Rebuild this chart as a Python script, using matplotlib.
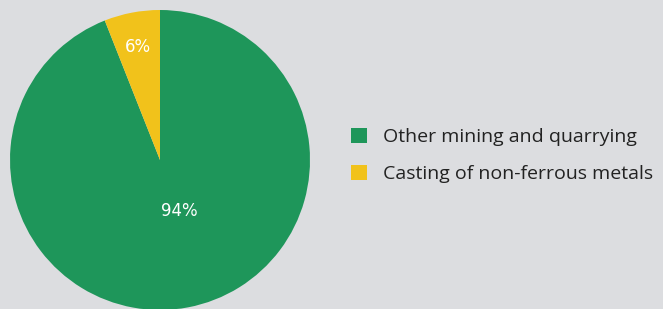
import matplotlib.pyplot as plt
from matplotlib.patches import Patch

categories = ['Other mining and quarrying', 'Casting of non-ferrous metals']
shares = [94, 6]
colors = ['#1e965a', '#f1c21b']
bg = '#dcdde0'

fig = plt.figure(figsize=(6.63, 3.09), dpi=100, facecolor=bg)
ax = fig.add_axes([10 / 663, -1 / 309, 300 / 663, 300 / 309])
ax.set_facecolor(bg)

wedges, texts, autotexts = ax.pie(
    shares, colors=colors, startangle=90, counterclock=False,
    autopct='%d%%', pctdistance=0.77, radius=1,
    textprops=dict(color='white', fontsize=12, family='DejaVu Sans'),
    wedgeprops=dict(linewidth=0),
)
# big slice label sits closer to the centre
x, y = autotexts[0].get_position()
autotexts[0].set_position((x * 0.47 + 0.06, y * 0.45))
ax.set_xlim(-1, 1)
ax.set_ylim(-1, 1)
ax.set_aspect('equal')
ax.axis('off')

handles = [Patch(facecolor=c, edgecolor='none') for c in colors]
fig.legend(handles, categories, loc='center left', bbox_to_anchor=(335 / 663, 1 - 155.5 / 309),
           frameon=False, labelcolor='#222222', handlelength=0.85, handleheight=0.85,
           handletextpad=0.8, labelspacing=0.97, borderpad=0.3,
           prop=dict(family='Open Sans', size=14))

fig.savefig('out.png', dpi=100, facecolor=bg)
